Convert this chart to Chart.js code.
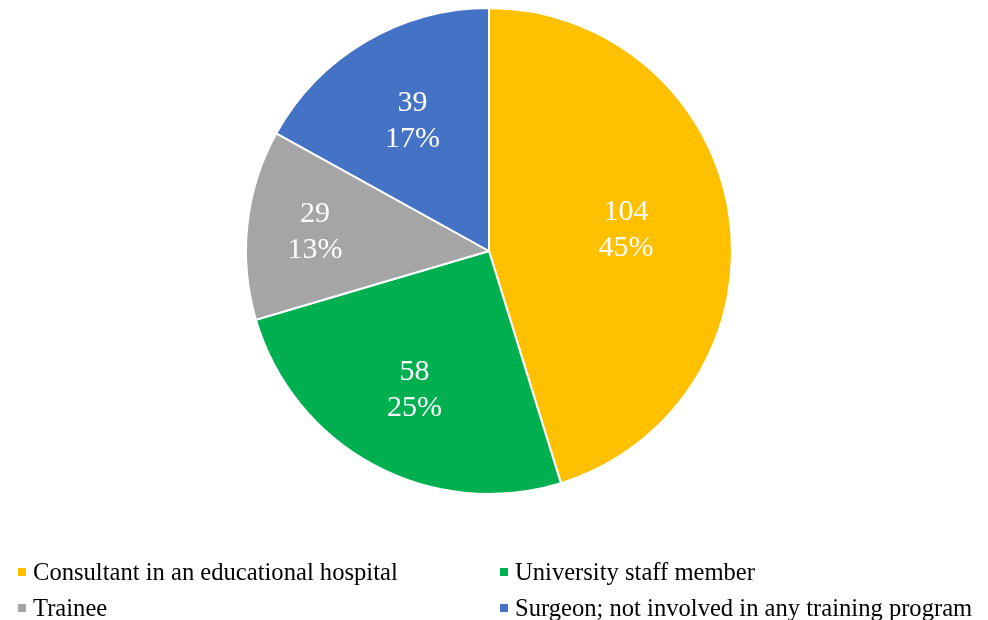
<!DOCTYPE html>
<html>
<head>
<meta charset="utf-8">
<script src="https://cdn.jsdelivr.net/npm/chart.js@4.4.1/dist/chart.umd.min.js"></script>
<style>
  html, body { margin: 0; padding: 0; background: #fff; }
  #wrap { position: relative; width: 988px; height: 620px; }
  #c { position: absolute; left: 0; top: 0; }
  .leg { position: absolute; font-family: "Liberation Serif", "Times New Roman", serif; font-size: 24.6px; color: #000; white-space: nowrap; line-height: 1; }
  .leg i { position: absolute; left: -15px; top: 8px; width: 8px; height: 8px; }
</style>
</head>
<body>
<div id="wrap">
  <canvas id="c" width="988" height="620"></canvas>
  <div id="legend"></div>
</div>
<script>
const categories = [
  "Consultant in an educational hospital",
  "University staff member",
  "Trainee",
  "Surgeon; not involved in any training program"
];
const counts = [104, 58, 29, 39];
const colors = ["#FFC000", "#00B050", "#A5A5A5", "#4472C4"];

// legend layout (grid positions, not data)
const legendPos = [[33, 560], [515, 560], [33, 596], [515, 596]];
const legendEl = document.getElementById('legend');
categories.forEach((name, i) => {
  const d = document.createElement('div');
  d.className = 'leg';
  d.style.left = legendPos[i][0] + 'px';
  d.style.top = legendPos[i][1] + 'px';
  const m = document.createElement('i');
  m.style.background = colors[i];
  d.appendChild(m);
  d.appendChild(document.createTextNode(name));
  legendEl.appendChild(d);
});

const total = counts.reduce((a, b) => a + b, 0);

const labelPlugin = {
  id: 'sliceLabels',
  afterDatasetsDraw(chart, args, opts) {
    const ctx = chart.ctx;
    const meta = chart.getDatasetMeta(0);
    ctx.save();
    ctx.fillStyle = '#fff';
    ctx.font = '30px "Liberation Serif", "Times New Roman", serif';
    ctx.textAlign = 'center';
    ctx.textBaseline = 'middle';
    meta.data.forEach((arc, i) => {
      const p = arc.getProps(['x', 'y', 'startAngle', 'endAngle', 'outerRadius'], true);
      const mid = (p.startAngle + p.endAngle) / 2;
      const r = p.outerRadius * opts.radii[i];
      const cx = p.x + Math.cos(mid) * r;
      const cy = p.y + Math.sin(mid) * r;
      const pct = Math.round(counts[i] / total * 100) + '%';
      ctx.fillText(String(counts[i]), cx, cy - 18);
      ctx.fillText(pct, cx, cy + 18);
    });
    ctx.restore();
  }
};

new Chart(document.getElementById('c'), {
  type: 'pie',
  data: {
    labels: categories,
    datasets: [{
      data: counts,
      backgroundColor: colors,
      borderColor: '#ffffff',
      borderWidth: 2
    }]
  },
  options: {
    responsive: false,
    animation: false,
    layout: { padding: { top: 7, bottom: 125, left: 0, right: 10 } },
    plugins: {
      legend: { display: false },
      tooltip: { enabled: false },
      sliceLabels: { radii: [0.57, 0.65, 0.72, 0.62] }
    }
  },
  plugins: [labelPlugin]
});
</script>
</body>
</html>
